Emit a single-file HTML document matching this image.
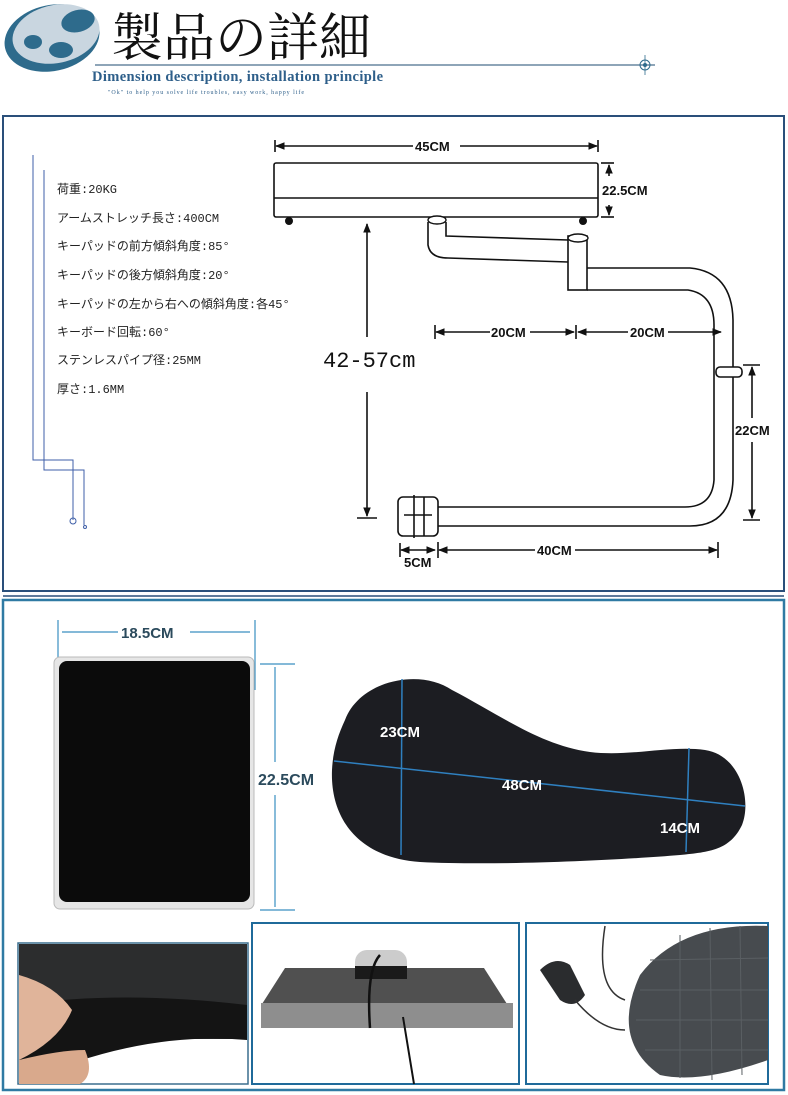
<!DOCTYPE html>
<html><head><meta charset="utf-8"><style>
html,body{margin:0;padding:0;background:#fff;width:788px;height:1095px;overflow:hidden}
</style></head><body>
<svg width="788" height="1095" viewBox="0 0 788 1095" xmlns="http://www.w3.org/2000/svg" font-family="'Liberation Serif','Noto Serif CJK SC',serif">
<defs>
<marker id="a" viewBox="0 0 10 10" refX="9" refY="5" markerWidth="6" markerHeight="6" orient="auto-start-reverse"><path d="M0 1 L10 5 L0 9 Z" fill="#111"/></marker>
</defs>
<!-- header -->
<ellipse cx="52" cy="38" rx="48" ry="33" fill="#2e6b8c" transform="rotate(-12 52 38)"/>
<ellipse cx="56" cy="34" rx="44" ry="29" fill="#c9d6e0" transform="rotate(-12 56 34)"/>
<ellipse cx="78" cy="21" rx="17" ry="11" fill="#2e6b8c" transform="rotate(-15 78 21)"/>
<ellipse cx="33" cy="42" rx="9" ry="7" fill="#2e6b8c"/>
<ellipse cx="61" cy="50" rx="12" ry="8" fill="#2e6b8c"/>
<text x="111" y="56" font-size="52" font-family="'Noto Serif CJK SC','Noto Sans CJK JP',serif" fill="#111">製品の詳細</text>
<line x1="95" y1="65" x2="655" y2="65" stroke="#4a6f8e" stroke-width="1.2"/>
<circle cx="645" cy="65" r="5" fill="none" stroke="#2e6b8c"/><circle cx="645" cy="65" r="2" fill="#2e6b8c"/>
<line x1="645" y1="55" x2="645" y2="75" stroke="#2e6b8c" stroke-width="0.8"/>
<text x="92" y="81" font-size="14.5" font-weight="bold" fill="#2e5f8a" textLength="291">Dimension description, installation principle</text>
<text x="108" y="94" font-size="6" fill="#2e5f8a" textLength="196">"Ok" to help you solve life troubles, easy work, happy life</text>

<!-- section 1 -->
<rect x="3" y="116" width="781" height="475" fill="none" stroke="#2a4f7a" stroke-width="2"/>
<line x1="3" y1="596" x2="784" y2="596" stroke="#2a4f7a" stroke-width="1.5"/>
<g fill="none" stroke="#3f5fa8" stroke-width="1">
<path d="M33 155 V460 H73 V520"/><path d="M44 170 V470 H84 V525"/>
</g>
<circle cx="73" cy="521" r="3" fill="none" stroke="#3f5fa8"/><circle cx="85" cy="527" r="1.5" fill="none" stroke="#3f5fa8"/>
<g font-size="12" fill="#222" font-family="'Liberation Mono','Noto Sans CJK JP',monospace">
<text x="57" y="193">荷重:20KG</text>
<text x="57" y="222">アームストレッチ長さ:400CM</text>
<text x="57" y="250">キーパッドの前方傾斜角度:85°</text>
<text x="57" y="279">キーパッドの後方傾斜角度:20°</text>
<text x="57" y="308">キーパッドの左から右への傾斜角度:各45°</text>
<text x="57" y="336">キーボード回転:60°</text>
<text x="57" y="364">ステンレスパイプ径:25MM</text>
<text x="57" y="393">厚さ:1.6MM</text>
</g>
<g stroke="#111" stroke-width="1.6" fill="none">
<rect x="274" y="163" width="324" height="54" rx="2" fill="#fff"/>
<line x1="274" y1="198" x2="598" y2="198"/>
<path d="M428 222 V245 Q430 258 448 258 L568 262"/>
<path d="M446 222 V236 L568 240"/>
<rect x="568" y="236" width="19" height="54" fill="#fff"/>
<path d="M587 268 L690 268 Q732 272 733 320 V480 Q731 526 690 526 L438 526"/>
<path d="M587 290 L688 290 Q714 294 714 325 V480 Q712 507 685 507 L438 507"/>
<rect x="398" y="497" width="40" height="39" rx="5" fill="#fff"/>
<line x1="404" y1="515" x2="432" y2="515"/><line x1="414" y1="495" x2="414" y2="538"/><line x1="424" y1="497" x2="424" y2="536"/>
<rect x="716" y="367" width="26" height="10" rx="4" fill="#fff"/>
</g>
<g stroke="#111" stroke-width="1.6" fill="none">
<line x1="276" y1="146" x2="413" y2="146" marker-start="url(#a)"/><line x1="460" y1="146" x2="597" y2="146" marker-end="url(#a)"/>
<line x1="275" y1="140" x2="275" y2="152"/><line x1="598" y1="140" x2="598" y2="152"/>
<line x1="601" y1="163" x2="614" y2="163"/><line x1="601" y1="217" x2="614" y2="217"/>
<line x1="609" y1="176" x2="609" y2="165" marker-end="url(#a)"/><line x1="609" y1="205" x2="609" y2="215" marker-end="url(#a)"/>
<line x1="367" y1="337" x2="367" y2="224" marker-end="url(#a)"/><line x1="367" y1="392" x2="367" y2="516" marker-end="url(#a)"/><line x1="357" y1="518" x2="377" y2="518"/>
<line x1="436" y1="332" x2="490" y2="332" marker-start="url(#a)"/><line x1="530" y1="332" x2="574" y2="332" marker-end="url(#a)"/>
<line x1="578" y1="332" x2="628" y2="332" marker-start="url(#a)"/><line x1="668" y1="332" x2="721" y2="332" marker-end="url(#a)"/>
<line x1="435" y1="325" x2="435" y2="339"/><line x1="576" y1="325" x2="576" y2="339"/>
<line x1="752" y1="418" x2="752" y2="367" marker-end="url(#a)"/><line x1="752" y1="442" x2="752" y2="518" marker-end="url(#a)"/>
<line x1="743" y1="365" x2="760" y2="365"/><line x1="743" y1="520" x2="760" y2="520"/>
<line x1="439" y1="550" x2="535" y2="550" marker-start="url(#a)"/><line x1="575" y1="550" x2="717" y2="550" marker-end="url(#a)"/>
<line x1="718" y1="542" x2="718" y2="558"/><line x1="438" y1="542" x2="438" y2="558"/>
<line x1="401" y1="550" x2="435" y2="550" marker-end="url(#a)" marker-start="url(#a)"/><line x1="400" y1="543" x2="400" y2="557"/>
</g>
<circle cx="289" cy="221" r="4" fill="#111"/><circle cx="583" cy="221" r="4" fill="#111"/>
<ellipse cx="437" cy="220" rx="9" ry="4" fill="#fff" stroke="#111" stroke-width="1.4"/>
<ellipse cx="578" cy="238" rx="10" ry="4" fill="#fff" stroke="#111" stroke-width="1.4"/>
<g fill="#111" font-family="'Liberation Sans Narrow','Liberation Sans',sans-serif" font-weight="bold" font-size="13">
<text x="415" y="151">45CM</text>
<text x="602" y="195">22.5CM</text>
<text x="491" y="337">20CM</text>
<text x="630" y="337">20CM</text>
<text x="735" y="435">22CM</text>
<text x="537" y="555">40CM</text>
<text x="404" y="567">5CM</text>
</g>
<text x="323" y="367" font-size="22" font-family="'Liberation Mono',monospace" fill="#111">42-57cm</text>

<!-- section 2 -->
<rect x="3" y="600" width="781" height="490" fill="none" stroke="#2f7aa3" stroke-width="2.5"/>
<g stroke="#3a8fc0" stroke-width="1.2" fill="none">
<line x1="58" y1="620" x2="58" y2="690"/><line x1="255" y1="620" x2="255" y2="690"/>
<line x1="62" y1="632" x2="118" y2="632"/><line x1="190" y1="632" x2="250" y2="632"/>
<line x1="260" y1="664" x2="295" y2="664"/><line x1="260" y1="910" x2="295" y2="910"/>
<line x1="275" y1="667" x2="275" y2="762"/><line x1="275" y1="795" x2="275" y2="907"/>
</g>
<text x="121" y="638" font-size="15" font-weight="bold" font-family="'Liberation Sans',sans-serif" fill="#2b4a5c">18.5CM</text>
<text x="258" y="785" font-size="16" font-weight="bold" font-family="'Liberation Sans',sans-serif" fill="#2b4a5c">22.5CM</text>
<rect x="54" y="657" width="200" height="252" rx="6" fill="#e6e6e6" stroke="#bbb"/>
<rect x="59" y="661" width="191" height="241" rx="8" fill="#0b0b0b"/>
<path d="M345 720 C360 680 420 668 452 690 C500 715 540 745 590 752 C630 757 670 745 705 750 C740 755 752 800 742 825 C730 850 710 852 680 855 C620 860 500 866 420 862 C360 858 330 820 332 770 C333 750 338 735 345 720 Z" fill="#1c1d22"/>
<g stroke="#2f80c0" stroke-width="1.5">
<line x1="402" y1="679" x2="401" y2="855"/><line x1="334" y1="761" x2="745" y2="806"/><line x1="689" y1="748" x2="686" y2="852"/>
</g>
<g fill="#fff" font-weight="bold" font-size="15" font-family="'Liberation Sans',sans-serif">
<text x="380" y="737">23CM</text><text x="502" y="790">48CM</text><text x="660" y="833">14CM</text>
</g>
<!-- photos -->
<rect x="18" y="943" width="230" height="141" fill="#fff" stroke="#3a6e8e" stroke-width="1.5"/>
<rect x="19" y="944" width="228" height="95" fill="#2c2d2e"/>
<path d="M19 1005 Q120 990 247 1005 V1040 Q140 1030 19 1084 Z" fill="#141414"/>
<path d="M19 975 Q55 985 72 1010 Q60 1040 19 1060 Z" fill="#e0b49a"/>
<path d="M19 1060 Q60 1050 85 1050 Q95 1075 80 1084 H19 Z" fill="#d9a98c"/>
<rect x="252" y="923" width="267" height="161" fill="#fff" stroke="#1f6a9a" stroke-width="2"/>
<path d="M285 968 H484 L507 1004 H262 Z" fill="#505050"/>
<rect x="261" y="1003" width="252" height="25" fill="#8e8e8e"/>
<rect x="355" y="950" width="52" height="28" rx="12" fill="#ccc"/>
<rect x="355" y="966" width="52" height="13" fill="#1a1a1a"/>
<path d="M380 955 Q366 970 370 1028" stroke="#111" stroke-width="2.5" fill="none"/>
<path d="M403 1017 L414 1084" stroke="#111" stroke-width="2" fill="none"/>
<rect x="526" y="923" width="242" height="161" fill="#fff" stroke="#1f6a9a" stroke-width="2"/>
<path d="M768 926 Q680 922 640 975 Q610 1040 660 1075 Q700 1084 768 1060 Z" fill="#474b4f"/>
<g stroke="#5a5f63" stroke-width="1">
<line x1="650" y1="960" x2="768" y2="958"/><line x1="640" y1="990" x2="768" y2="990"/><line x1="636" y1="1020" x2="768" y2="1020"/><line x1="645" y1="1050" x2="768" y2="1050"/>
<line x1="680" y1="935" x2="680" y2="1078"/><line x1="710" y1="928" x2="712" y2="1080"/><line x1="740" y1="926" x2="742" y2="1075"/>
</g>
<path d="M540 970 Q555 955 570 965 L585 995 Q575 1010 560 1000 Z" fill="#2a2c2e"/>
<path d="M605 926 Q595 990 625 1000 M575 1000 Q600 1030 625 1030" stroke="#333" stroke-width="1.5" fill="none"/>
</svg>
</body></html>
